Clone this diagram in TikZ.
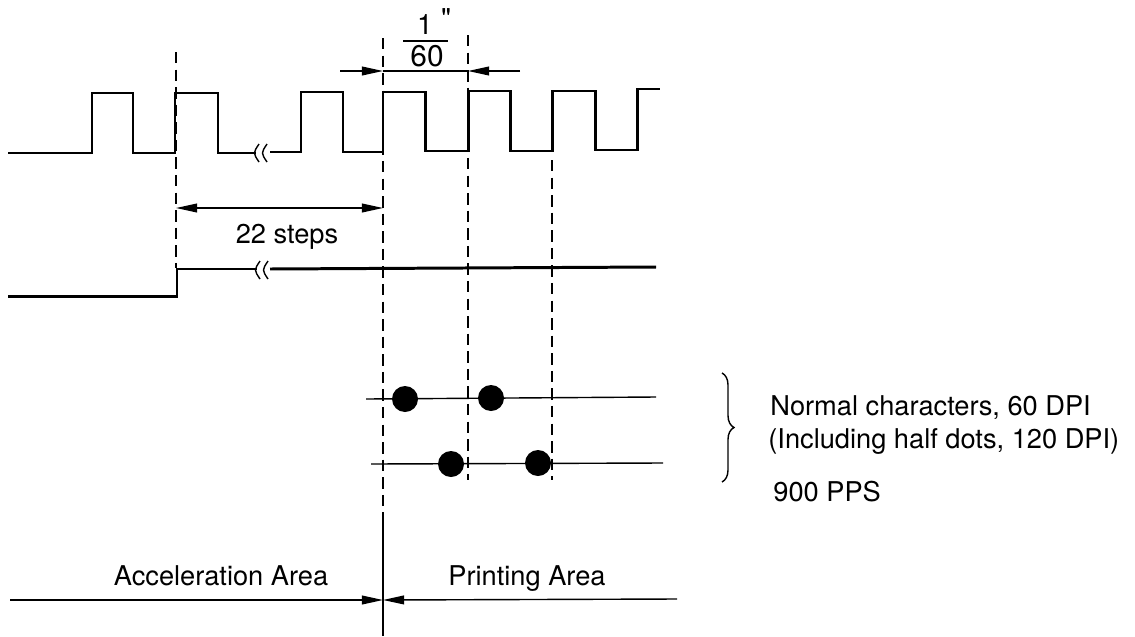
\documentclass[tikz,border=0pt]{standalone}
\usepackage{fontspec}
\setmainfont{TeX Gyre Heros}
\newfontfamily\quotefont{TeX Gyre Heros}[Ligatures=TeXOff]
\usetikzlibrary{arrows.meta,decorations.pathreplacing}
\begin{document}
\begin{tikzpicture}[x=0.02cm, y=-0.02cm,
  every node/.style={font=\fontsize{15.5}{18}\selectfont, inner sep=0pt},
  signal/.style={line width=1.7pt},
  guide/.style={line width=0.7pt, dash pattern=on 6.5pt off 3.5pt},
  thinline/.style={line width=0.8pt},
  dimtip/.style={-{Triangle[length=12pt,width=5pt]}},
  dot/.style={circle, fill, inner sep=0pt, minimum size=0.52cm}]
  \useasboundingbox (0,0) rectangle (1135,636);
  % clock pulses
  \draw[signal] (8,153) -- (92,153) |- (133,93) |- (175,153) |- (218,93) |- (256,153);
  \draw[signal] (270,152) -- (301,152) |- (343,92) |- (383,152) |- (425,92) |- (468,151)
    |- (510,91) |- (552,151) |- (595,91) |- (637,150) |- (660,89);
  \draw[thinline] (259,144) .. controls (253,153) .. (259,162);
  \draw[thinline] (267,144) .. controls (261,153) .. (267,162);
  % carriage step
  \draw[signal] (8,296) -- (177,296) -- (177,269) -- (257,269);
  \draw[signal] (270,269) -- (656,267);
  \draw[thinline] (260,261) .. controls (254,270) .. (260,279);
  \draw[thinline] (268,261) .. controls (262,270) .. (268,279);
  % guides
  \draw[guide] (176,52) -- (176,268);
  \draw[guide] (383,38) -- (383,515);
  \draw[thinline] (383,515) -- (383,636);
  \draw[guide] (468,35) -- (468,480);
  \draw[guide] (552,160) -- (552,480);
  % 1/60 inch
  \coordinate (pa) at (340,71);
  \coordinate (pl) at (383,71);
  \coordinate (pr) at (468,71);
  \coordinate (pb) at (520,71);
  \draw[thinline] (pl) -- (pr);
  \draw[thinline, dimtip] (pa) -- (pl);
  \draw[thinline, dimtip] (pb) -- (pr);
  \node (one) at (425,25) {\fontsize{16}{18}\selectfont 1};
  \node (sec) at (446,19) {\fontsize{16}{18}\quotefont "};
  \draw[thinline] (403,41) -- (448,41);
  \node (sixty) at (427,56) {\fontsize{17}{19}\selectfont 60};
  % 22 steps
  \coordinate (sl) at (176,208);
  \coordinate (sr) at (383,208);
  \draw[thinline, {Triangle[length=12pt,width=5pt]}-{Triangle[length=12pt,width=5pt]}] (sl) -- (sr);
  \node[anchor=base] (steps) at (287,243) {22 steps};
  % dot rows
  \draw[thinline] (366,399) -- (656,397);
  \draw[thinline] (371,464) -- (663,463);
  \node[dot] (d1) at (405,399) {};
  \node[dot] (d2) at (491,398) {};
  \node[dot] (d3) at (451,464) {};
  \node[dot] (d4) at (538,463) {};
  \draw[thinline, decorate, decoration={brace, amplitude=0.24cm}] (722,373) -- (722,482);
  \node[anchor=base west] (normal) at (770,415) {Normal characters, 60 DPI};
  \node[anchor=base west] (half) at (768,448) {(Including half dots, 120 DPI)};
  \node[anchor=base west] (pps) at (773,501) {900 PPS};
  % areas
  \node[anchor=base] (accel) at (221,585) {Acceleration Area};
  \node[anchor=base] (printing) at (527,585) {Printing Area};
  \coordinate (al) at (10,600);
  \coordinate (am) at (383,600);
  \coordinate (ar) at (677,599);
  \draw[thinline, dimtip] (al) -- (am);
  \draw[thinline, dimtip] (ar) -- (am);
\end{tikzpicture}
\end{document}
